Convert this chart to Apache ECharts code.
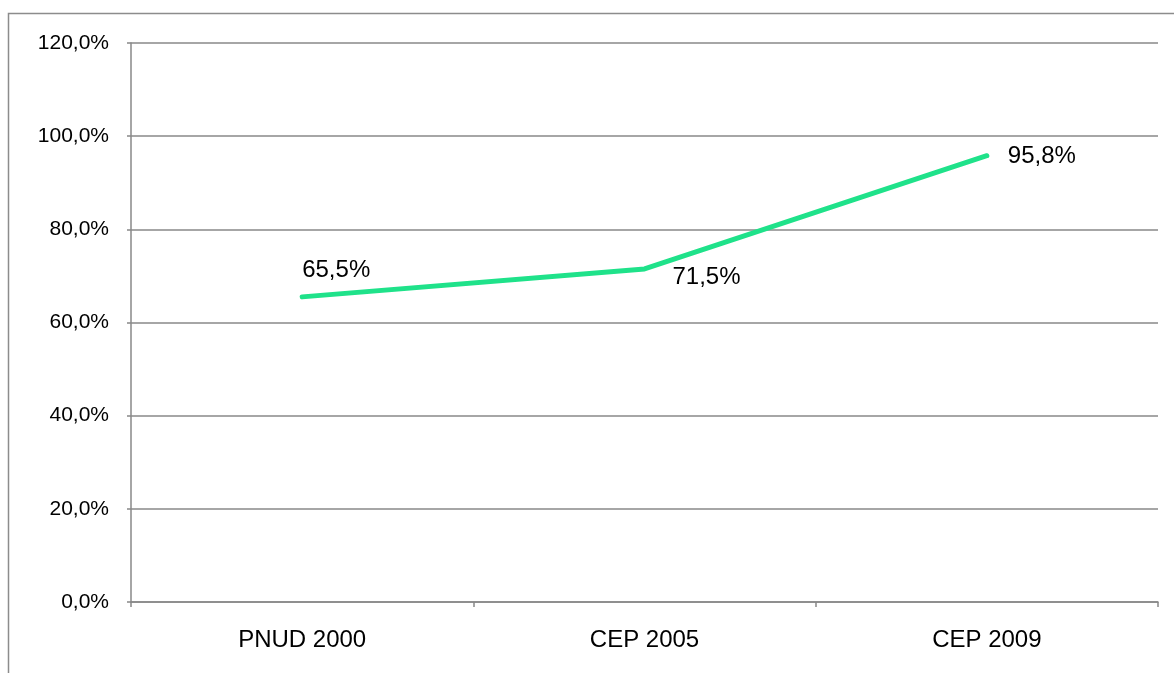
<!DOCTYPE html>
<html>
<head>
<meta charset="utf-8">
<script src="https://cdn.jsdelivr.net/npm/echarts@6/dist/echarts.min.js"></script>
<style>
html,body{margin:0;padding:0;background:#fff;}
#chart{width:1174px;height:673px;}
</style>
</head>
<body>
<div id="chart"></div>
<script>
const categories = ['PNUD 2000', 'CEP 2005', 'CEP 2009'];
const values = [65.5, 71.5, 95.8];
const yTicks = { min: 0, max: 120, interval: 20 };

const fmt = v => v.toFixed(1).replace('.', ',') + '%';
const labelOffsets = [[-2, -27], [26, 8], [19, 1]];

const chart = echarts.init(document.getElementById('chart'), null, { renderer: 'canvas' });
const FONT = 'Liberation Sans, Arial, sans-serif';
chart.setOption({
  animation: false,
  backgroundColor: '#ffffff',
  graphic: [{
    type: 'rect',
    shape: { x: 8.5, y: 13.5, width: 1300, height: 800 },
    style: { fill: 'none', stroke: '#8c8c8c', lineWidth: 1.5 },
    silent: true
  }],
  grid: { left: 131, right: 16, top: 43, bottom: 71, containLabel: false },
  xAxis: {
    type: 'category',
    data: categories,
    boundaryGap: true,
    axisLine: { show: true, lineStyle: { color: '#888888', width: 1.5 } },
    axisTick: { show: true, length: 5, alignWithLabel: false, lineStyle: { color: '#888888', width: 1.5 } },
    axisLabel: { color: '#000', fontFamily: FONT, fontSize: 24, margin: 26 },
    splitLine: { show: false }
  },
  yAxis: {
    type: 'value',
    min: yTicks.min, max: yTicks.max, interval: yTicks.interval,
    axisLine: { show: true, lineStyle: { color: '#888888', width: 1.5 } },
    axisTick: { show: true, length: 4, lineStyle: { color: '#888888', width: 1.5 } },
    axisLabel: { color: '#000', fontFamily: FONT, fontSize: 21, margin: 22, formatter: v => fmt(v) },
    splitLine: { show: true, lineStyle: { color: '#888888', width: 1.5 } }
  },
  series: [{
    type: 'line',
    data: values.map((v, i) => ({
      value: v,
      label: { offset: labelOffsets[i] }
    })),
    symbol: 'circle',
    symbolSize: 4,
    showSymbol: true,
    itemStyle: { color: '#1fe28a' },
    lineStyle: { color: '#1fe28a', width: 5, cap: 'round' },
    label: {
      show: true,
      position: 'right',
      distance: 0,
      color: '#000',
      fontFamily: FONT,
      fontSize: 24,
      formatter: p => fmt(p.value)
    }
  }]
});
</script>
</body>
</html>
